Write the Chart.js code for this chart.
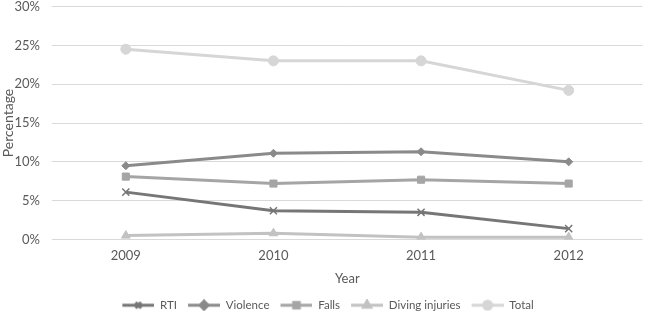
<!DOCTYPE html>
<html>
<head>
<meta charset="utf-8">
<script src="https://cdn.jsdelivr.net/npm/chart.js@4"></script>
<style>
  html, body { margin: 0; padding: 0; background: #fff; }
  #wrap { width: 649px; height: 314px; }
</style>
</head>
<body>
<div id="wrap"><canvas id="chart"></canvas></div>
<script>
const years = ['2009', '2010', '2011', '2012'];
const rti = [6.1, 3.7, 3.5, 1.4];
const violence = [9.5, 11.1, 11.3, 10.0];
const falls = [8.1, 7.2, 7.7, 7.2];
const diving = [0.5, 0.8, 0.3, 0.3];
const total = [24.5, 23.0, 23.0, 19.2];

const textColor = '#595959';
const font = "Lato, 'Open Sans', sans-serif";

const series = [
    { label: 'RTI', data: rti, color: '#767676', style: 'crossRot', radius: 5 },
    { label: 'Violence', data: violence, color: '#8a8a8a', style: 'rectRot', radius: 4 },
    { label: 'Falls', data: falls, color: '#a5a5a5', style: 'rect', radius: 5 },
    { label: 'Diving injuries', data: diving, color: '#c2c2c2', style: 'triangle', radius: 5 },
    { label: 'Total', data: total, color: '#d6d6d6', style: 'circle', radius: 5 }
];

// legend symbol: transparent gap on the left, then a line with the marker in the middle
function legendSymbol(s) {
    const c = document.createElement('canvas');
    c.width = 40; c.height = 12;
    const g = c.getContext('2d');
    g.strokeStyle = s.color;
    g.lineWidth = 3;
    g.beginPath(); g.moveTo(8, 6); g.lineTo(40, 6); g.stroke();
    g.fillStyle = s.color;
    Chart.helpers.drawPoint(g, { pointStyle: s.style, radius: 4, borderWidth: 1.5 }, 24, 6);
    return c;
}

new Chart(document.getElementById('chart'), {
    type: 'line',
    data: {
        labels: years,
        datasets: series.map(s => ({
            label: s.label,
            data: s.data,
            borderColor: s.color,
            backgroundColor: s.color,
            pointBackgroundColor: s.color,
            pointBorderColor: s.color,
            borderWidth: 3,
            pointStyle: s.style,
            pointRadius: s.radius,
            pointHoverRadius: s.radius,
            pointBorderWidth: s.style === 'crossRot' ? 1.5 : 1,
            tension: 0,
            fill: false
        }))
    },
    options: {
        responsive: true,
        maintainAspectRatio: false,
        animation: false,
        // legend reserves 10px of empty space under itself, push it off the bottom
        layout: { padding: { top: 0, right: 1, left: 0, bottom: -7 } },
        plugins: {
            legend: {
                position: 'bottom',
                labels: {
                    color: textColor,
                    font: { family: font, size: 11.5 },
                    usePointStyle: true,
                    pointStyleWidth: 40,
                    boxHeight: 12,
                    padding: 3,
                    generateLabels: chart => chart.data.datasets.map((ds, i) => ({
                        text: ds.label,
                        fillStyle: ds.borderColor,
                        strokeStyle: ds.borderColor,
                        lineWidth: 0,
                        pointStyle: legendSymbol(series[i]),
                        hidden: false,
                        datasetIndex: i,
                        fontColor: textColor
                    }))
                }
            },
            tooltip: { enabled: false }
        },
        scales: {
            x: {
                offset: true,
                grid: { display: false, drawTicks: false },
                border: { display: false },
                ticks: { color: textColor, font: { family: font, size: 13, lineHeight: 1 }, padding: 10 },
                title: { display: true, text: 'Year', color: textColor, font: { family: font, size: 13, lineHeight: 1 }, padding: { top: 0, bottom: 11 } }
            },
            y: {
                min: 0,
                max: 30,
                grid: { color: '#d9d9d9', lineWidth: 1, drawTicks: false },
                border: { display: false },
                ticks: {
                    stepSize: 5,
                    color: textColor,
                    font: { family: font, size: 13 },
                    padding: 12,
                    callback: v => v + '%'
                },
                title: { display: true, text: 'Percentage', color: textColor, font: { family: font, size: 14 }, padding: { top: 0, bottom: 0 } },
                afterFit: scale => {
                    scale.width = 52;
                    scale.paddingTop = 6;
                    scale.paddingBottom = 6;
                }
            }
        }
    }
});
</script>
</body>
</html>
